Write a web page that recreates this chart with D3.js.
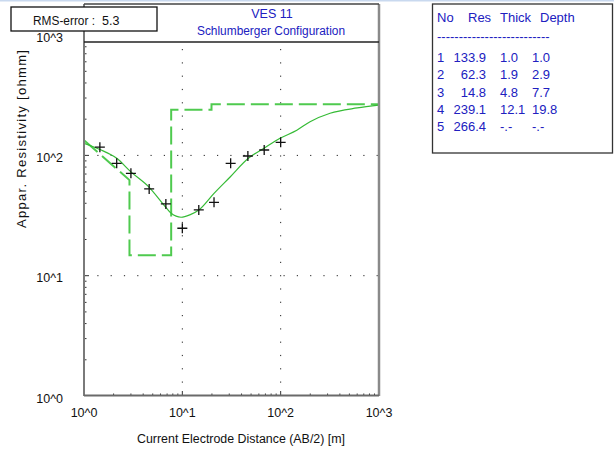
<!DOCTYPE html>
<html><head><meta charset="utf-8">
<script src="https://cdn.jsdelivr.net/npm/d3@7"></script>
<style>
body{margin:0;background:#fff;}
text{font-family:"Liberation Sans",Arial,sans-serif;}
</style></head>
<body>
<svg id="c" width="614" height="450"></svg>
<script>
// ---- data ----
const obsAB2 = [1.45, 2.15, 3.0, 4.6, 6.8, 10, 14.7, 21, 31, 46.4, 68, 100];
const obsRho = [117, 86, 71, 52.6, 39.5, 24.8, 35.2, 40.7, 86, 98.9, 110.9, 128.5];
const calcAB2 = [1, 1.45, 2.15, 3.0, 4.6, 6.8, 7.7, 9.7, 11.9, 14.7, 21, 30.8, 46.9, 67.7, 98.5, 146, 199, 318, 600, 1000];
const calcRho = [126, 112, 94.6, 73, 54.3, 37, 33, 30.6, 32, 35.2, 48.4, 66.5, 94.6, 114.6, 138.7, 162, 190.6, 224, 248, 262];
const layerNo = [1, 2, 3, 4, 5];
const layerRes = [133.9, 62.3, 14.8, 239.1, 266.4];
const layerThick = [1.0, 1.9, 4.8, 12.1, null];
const layerDepth = [1.0, 2.9, 7.7, 19.8, null];
const xTickVals = [1, 10, 100, 1000];
const xTickLabels = ["10^0", "10^1", "10^2", "10^3"];
const yTickVals = [1, 10, 100, 1000];
const yTickLabels = ["10^0", "10^1", "10^2", "10^3"];
const rmsError = 5.3;
const titleLines = ["VES 11", "Schlumberger Configuration"];

// ---- layout ----
const svg = d3.select("#c");
const L = 84, R = 379, B = 396, T = 35.1, TB = 42, TOP = 4;
const x = d3.scaleLog().domain([1, 1000]).range([L, R]);
const y = d3.scaleLog().domain([1, 1000]).range([B, T]);
const green = "#36bb36", dashGreen = "#4fca4f", blue = "#2020c0";

svg.append("rect").attr("x",0).attr("y",0).attr("width",614).attr("height",1.5).attr("fill","#c9d9ef");

svg.append("defs").append("clipPath").attr("id","clip")
  .append("rect").attr("x",L).attr("y",TB).attr("width",R-L).attr("height",B-TB);

const plot = svg.append("g").attr("clip-path","url(#clip)");

// dotted grid
const gridVals = [10, 100];
gridVals.forEach(v => {
  plot.append("line").attr("x1",L).attr("x2",R).attr("y1",y(v)).attr("y2",y(v))
    .attr("stroke","#222").attr("stroke-width",1).attr("stroke-dasharray","1.2,12.1");
  plot.append("line").attr("x1",x(v)).attr("x2",x(v)).attr("y1",B).attr("y2",TB)
    .attr("stroke","#222").attr("stroke-width",1).attr("stroke-dasharray","1.2,12.1");
});

// minor/major ticks
const minorVals = [];
for (let d = 1; d < 1000; d *= 10) for (let k = 1; k <= 9; k++) minorVals.push(d * k);
minorVals.push(1000);
minorVals.forEach(v => {
  const major = Math.abs(Math.log10(v) % 1) < 1e-9;
  const len = major ? 5 : 2.5;
  plot.append("line").attr("x1",L).attr("x2",L+len).attr("y1",y(v)).attr("y2",y(v))
    .attr("stroke","#333").attr("stroke-width",1);
  plot.append("line").attr("x1",x(v)).attr("x2",x(v)).attr("y1",B).attr("y2",B-len)
    .attr("stroke","#333").attr("stroke-width",1);
});

// model (layer) step line
const modelPts = [[layerDepth[0], layerRes[0]]];
for (let i = 1; i < layerRes.length - 1; i++) {
  modelPts.push([layerDepth[i], layerRes[i]]);
  modelPts.push([layerDepth[i], layerRes[i+1]]);
}
modelPts.push([1000, layerRes[layerRes.length-1]]);
const line = d3.line().x(d => x(d[0])).y(d => y(d[1]));
plot.append("path").attr("d", line(modelPts)).attr("fill","none")
  .attr("stroke",dashGreen).attr("stroke-width",2).attr("stroke-dasharray","18,6");

// calculated curve
const calcPts = calcAB2.map((v,i) => [v, calcRho[i]]);
plot.append("path").attr("d", d3.line().x(d=>x(d[0])).y(d=>y(d[1])).curve(d3.curveMonotoneX)(calcPts))
  .attr("fill","none").attr("stroke",green).attr("stroke-width",1.2);

// observed crosses
obsAB2.forEach((v,i) => {
  const cx = x(v), cy = y(obsRho[i]), s = 5;
  plot.append("path").attr("d",`M${cx-s},${cy}H${cx+s}M${cx},${cy-s}V${cy+s}`)
    .attr("stroke","#111").attr("stroke-width",1.3);
});

// frame
svg.append("line").attr("x1",L).attr("x2",L).attr("y1",TOP).attr("y2",B).attr("stroke","#7a7a7a").attr("stroke-width",2);
svg.append("line").attr("x1",R).attr("x2",R).attr("y1",TOP).attr("y2",B).attr("stroke","#8a8a8a").attr("stroke-width",2.5);
svg.append("line").attr("x1",L).attr("x2",R).attr("y1",B-0.5).attr("y2",B-0.5).attr("stroke","#6a6a6a").attr("stroke-width",2);
svg.append("line").attr("x1",L).attr("x2",R).attr("y1",TOP).attr("y2",TOP).attr("stroke","#444").attr("stroke-width",1.5);
svg.append("line").attr("x1",L).attr("x2",R).attr("y1",TB).attr("y2",TB).attr("stroke","#222").attr("stroke-width",1.5);

// title
svg.append("text").attr("x",272).attr("y",18).attr("text-anchor","middle").attr("font-size",12.5).attr("fill",blue).text(titleLines[0]);
svg.append("text").attr("x",271).attr("y",35).attr("text-anchor","middle").attr("font-size",12.5).attr("fill",blue)
  .attr("textLength",148).attr("lengthAdjust","spacingAndGlyphs").text(titleLines[1]);

// axis labels
xTickVals.forEach((v,i) => {
  svg.append("text").attr("x",x(v)).attr("y",417).attr("text-anchor","middle").attr("font-size",12.5).attr("fill","#111").text(xTickLabels[i]);
});
yTickVals.forEach((v,i) => {
  svg.append("text").attr("x",63).attr("y",y(v)+6.5).attr("text-anchor","end").attr("font-size",12.5).attr("fill","#111").text(yTickLabels[i]);
});
svg.append("text").attr("x",241).attr("y",443).attr("text-anchor","middle").attr("font-size",12.5).attr("fill","#111")
  .attr("textLength",208).attr("lengthAdjust","spacingAndGlyphs").text("Current Electrode Distance (AB/2) [m]");
svg.append("text").attr("transform","translate(26,139) rotate(-90)").attr("text-anchor","middle").attr("font-size",13)
  .attr("textLength",178).attr("lengthAdjust","spacing").attr("fill","#111").text("Appar. Resistivity [ohmm]");

// RMS box
svg.append("rect").attr("x",11).attr("y",7).attr("width",146).attr("height",24).attr("fill","#fff").attr("stroke","#111").attr("stroke-width",1.3);
svg.append("text").attr("x",33).attr("y",25).attr("font-size",12.5).attr("fill","#111")
  .attr("textLength",62).attr("lengthAdjust","spacingAndGlyphs").text("RMS-error :");
svg.append("text").attr("x",102).attr("y",25).attr("font-size",12.5).attr("fill","#111").text(rmsError.toFixed(1));

// table box
svg.append("rect").attr("x",432.5).attr("y",4).attr("width",180).attr("height",149).attr("fill","#fff").attr("stroke","#333").attr("stroke-width",1.3);
const tg = svg.append("g").attr("font-size",13).attr("fill",blue);
tg.append("text").attr("x",437).attr("y",22).text("No");
tg.append("text").attr("x",468).attr("y",22).text("Res");
tg.append("text").attr("x",500).attr("y",22).text("Thick");
tg.append("text").attr("x",540).attr("y",22).text("Depth");
tg.append("text").attr("x",437).attr("y",41).text("--------------------------");
const fmt = v => v == null ? "-.-" : v.toFixed(1);
layerNo.forEach((n,i) => {
  const yy = 62 + i * 17.3;
  tg.append("text").attr("x",437).attr("y",yy).text(n);
  tg.append("text").attr("x",486).attr("y",yy).attr("text-anchor","end").text(layerRes[i].toFixed(1));
  tg.append("text").attr("x",500).attr("y",yy).text(layerThick[i] == null ? " -.-" : fmt(layerThick[i]));
  tg.append("text").attr("x",532).attr("y",yy).text(fmt(layerDepth[i]));
});
</script>
</body></html>
